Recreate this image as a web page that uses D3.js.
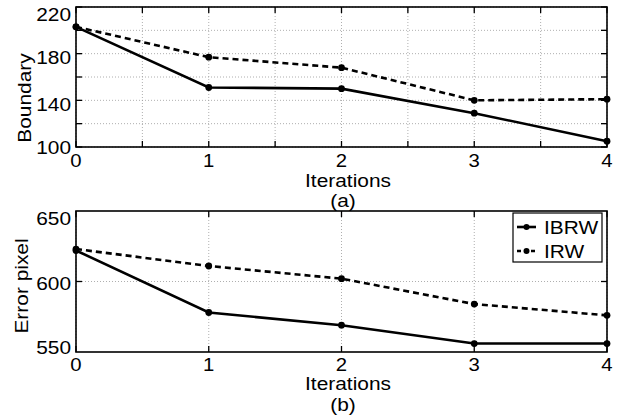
<!DOCTYPE html>
<html>
<head>
<meta charset="utf-8">
<script src="https://cdn.jsdelivr.net/npm/d3@7"></script>
<style>
  body { margin: 0; background: #fff; }
  text { font-family: "Liberation Sans", Arial, sans-serif; fill: #000; }
</style>
</head>
<body>
<svg width="625" height="418"></svg>
<script>
// data
const iterations = [0, 1, 2, 3, 4];
const boundaryIBRW = [203, 151, 150, 129, 105];
const boundaryIRW = [203, 177, 168, 140, 141];
const errorIBRW = [622, 578, 569, 556, 556];
const errorIRW = [623, 611, 602, 584, 576];
const seriesNames = ['IBRW', 'IRW'];
const boundaryTicks = [100, 140, 180, 220];
const boundaryGrid = [100, 120, 140, 160, 180, 200, 220];
const errorTicks = [550, 600, 650];
const iterTicks = [0, 1, 2, 3, 4];
const iterGridTop = [0, 0.5, 1, 1.5, 2, 2.5, 3, 3.5, 4];

const svg = d3.select('svg');
const left = 76, right = 607;
const stretch = 1.13; // the figure's lettering is a little wider than normal

function label(g, x, y, str, size, anchor, rot) {  // text with horizontal stretch
  let t = 'translate(' + x + ',' + y + ')';
  if (rot) t += ' rotate(-90)';
  t += ' scale(' + stretch + ',1)';
  return g.append('text').attr('transform', t)
    .attr('text-anchor', anchor).attr('font-size', size).text(str);
}

function drawPanel(opt) {  // one axes box, grid, lines and labels
  const x = d3.scaleLinear().domain([0, 4]).range([left, right]);
  const y = d3.scaleLinear().domain(opt.domain).range([opt.bottom, opt.top]);
  const g = svg.append('g');

  // dotted grid
  g.selectAll('.vg').data(opt.xGrid).enter().append('line')
    .attr('x1', d => x(d)).attr('x2', d => x(d))
    .attr('y1', opt.top).attr('y2', opt.bottom)
    .attr('stroke', '#9a9a9a').attr('stroke-width', 0.8).attr('stroke-dasharray', '1,2');
  g.selectAll('.hg').data(opt.yGrid).enter().append('line')
    .attr('x1', left).attr('x2', right)
    .attr('y1', d => y(d)).attr('y2', d => y(d))
    .attr('stroke', '#9a9a9a').attr('stroke-width', 0.8).attr('stroke-dasharray', '1,2');

  // inward ticks on all four sides
  const tl = 6;
  opt.xGrid.forEach(d => {
    g.append('line').attr('x1', x(d)).attr('x2', x(d)).attr('y1', opt.bottom).attr('y2', opt.bottom - tl).attr('stroke', '#000').attr('stroke-width', 1.3);
    g.append('line').attr('x1', x(d)).attr('x2', x(d)).attr('y1', opt.top).attr('y2', opt.top + tl).attr('stroke', '#000').attr('stroke-width', 1.3);
  });
  opt.yGrid.forEach(d => {
    g.append('line').attr('x1', left).attr('x2', left + tl).attr('y1', y(d)).attr('y2', y(d)).attr('stroke', '#000').attr('stroke-width', 1.3);
    g.append('line').attr('x1', right).attr('x2', right - tl).attr('y1', y(d)).attr('y2', y(d)).attr('stroke', '#000').attr('stroke-width', 1.3);
  });

  // frame
  g.append('rect').attr('x', left).attr('y', opt.top)
    .attr('width', right - left).attr('height', opt.bottom - opt.top)
    .attr('fill', 'none').attr('stroke', '#000').attr('stroke-width', 1.6);

  // tick labels
  iterTicks.forEach(d => label(g, x(d), opt.bottom + opt.xlab, d, 18, 'middle'));
  opt.yTicks.forEach(d => {
    const cy = Math.min(Math.max(y(d) + opt.shift, opt.top + 7), opt.bottom - opt.lowClamp);
    label(g, left - 5, cy + 6.5, d, 18.5, 'end');
  });

  // axis titles
  label(g, 348, opt.bottom + opt.xt, 'Iterations', 18.5, 'middle');
  label(g, 343, opt.bottom + opt.tagY, opt.tag, 18.5, 'middle');
  label(g, opt.ylx, opt.yly, opt.ylabel, 18.5, 'middle', true);

  // data lines
  const line = d3.line().x((d, i) => x(iterations[i])).y(d => y(d));
  [opt.solid, opt.dashed].forEach((vals, k) => {
    g.append('path').datum(vals).attr('d', line)
      .attr('fill', 'none').attr('stroke', '#000').attr('stroke-width', 2.6)
      .attr('stroke-dasharray', k ? '6,4' : null);
    g.selectAll('.pt' + k).data(vals).enter().append('circle')
      .attr('cx', (d, i) => x(iterations[i])).attr('cy', d => y(d))
      .attr('r', 3.4).attr('fill', '#000');
  });
}

drawPanel({
  top: 7, bottom: 147, domain: [100, 220],
  yTicks: boundaryTicks, yGrid: boundaryGrid, xGrid: iterGridTop,
  solid: boundaryIBRW, dashed: boundaryIRW,
  shift: 4, lowClamp: 0,
  xlab: 20, xt: 40, tagY: 60,
  ylabel: 'Boundary', ylx: 31, yly: 98, tag: '(a)'
});

drawPanel({
  top: 211, bottom: 352, domain: [550, 650],
  yTicks: errorTicks, yGrid: [600], xGrid: iterTicks,
  solid: errorIBRW, dashed: errorIRW,
  shift: 2, lowClamp: 5,
  xlab: 18.5, xt: 38, tagY: 58.5,
  ylabel: 'Error pixel', ylx: 28, yly: 286, tag: '(b)'
});

// legend in lower panel
const legend = svg.append('g').attr('id', 'legend');
legend.append('rect').attr('x', 513).attr('y', 213).attr('width', 89).attr('height', 49)
  .attr('fill', '#fff').attr('stroke', '#000').attr('stroke-width', 1.2);
seriesNames.forEach((name, k) => {
  const ly = 227 + k * 24;
  legend.append('line').attr('x1', 517).attr('x2', 536).attr('y1', ly).attr('y2', ly)
    .attr('stroke', '#000').attr('stroke-width', 2.6).attr('stroke-dasharray', k ? '4,3' : null);
  legend.append('circle').attr('cx', 526.5).attr('cy', ly).attr('r', 3).attr('fill', '#000');
  label(legend, 544, ly + 6.5, name, 18.5, 'start');
});
</script>
</body>
</html>
